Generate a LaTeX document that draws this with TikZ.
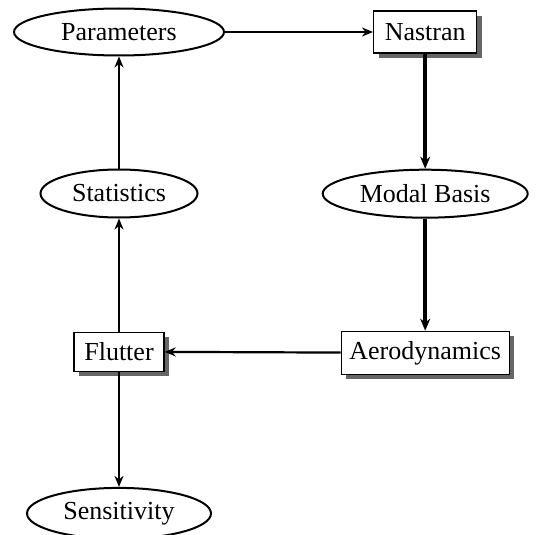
\documentclass[tikz,border=0pt]{standalone}
\usepackage{fontspec}
\setmainfont{Liberation Serif}
\usetikzlibrary{shapes.geometric, arrows.meta, positioning, shadows}

\begin{document}
\begin{tikzpicture}[x=1pt, y=1pt,
        oval/.style = {draw, ellipse, line width=2pt, fill=white, inner sep=0pt, font=\fontsize{26}{28}\selectfont},
        box/.style = {draw, rectangle, line width=1.4pt, fill=white, inner sep=0pt, font=\fontsize{26}{28}\selectfont,
            drop shadow={shadow xshift=5pt, shadow yshift=-5pt, fill=black!60, opacity=1}},
        arrow/.style = {-{Stealth[length=11pt, width=9pt]}, line width=2.2pt},
        thick arrow/.style = {-{Stealth[length=12pt, width=10pt]}, line width=4pt}
    ]
    \useasboundingbox (0,0) rectangle (541,-535);

    % Nodes
    \node (params) [oval, minimum width=210pt, minimum height=47pt] at (119,-32) {Parameters};
    \node (nastran) [box, minimum width=103pt, minimum height=42pt, right=148pt of params] {Nastran};
    \node (modal) [oval, minimum width=205pt, minimum height=48pt, below=115pt of nastran] {Modal Basis};
    \node (aero) [box, minimum width=168pt, minimum height=43pt, below=112pt of modal] {Aerodynamics};
    \node (stats) [oval, minimum width=157pt, minimum height=48pt, below=112pt of params] {Statistics};
    \node (flutter) [box, minimum width=90pt, minimum height=39pt, below=113pt of stats] {Flutter};
    \node (sens) [oval, minimum width=184pt, minimum height=51pt, below=115pt of flutter] {Sensitivity};

    % Arrows
    \draw[arrow] (params) -- (nastran);
    \draw[thick arrow] (nastran) -- (modal);
    \draw[thick arrow] (modal) -- (aero);
    \draw[arrow] (aero) -- (flutter);
    \draw[arrow] (flutter) -- (stats);
    \draw[arrow] (stats) -- (params);
    \draw[arrow] (flutter) -- (sens);

\end{tikzpicture}
\end{document}
